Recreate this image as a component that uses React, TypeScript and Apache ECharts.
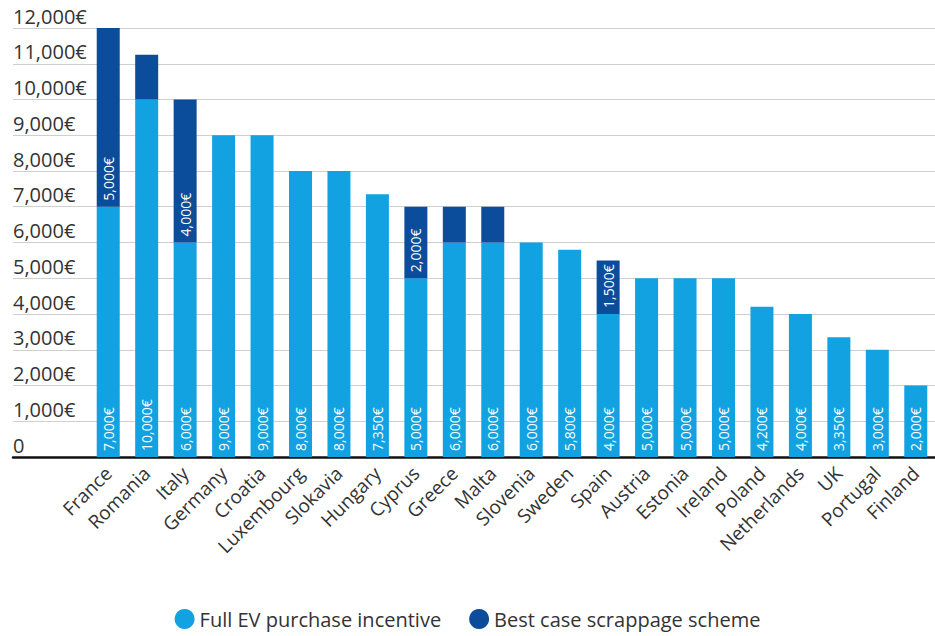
import React, { useEffect, useRef } from "react";
import * as echarts from "echarts";

const countries = [
  "France", "Romania", "Italy", "Germany", "Croatia", "Luxembourg", "Slokavia",
  "Hungary", "Cyprus", "Greece", "Malta", "Slovenia", "Sweden", "Spain",
  "Austria", "Estonia", "Ireland", "Poland", "Netherlands", "UK", "Portugal", "Finland",
];
const fullIncentive = [
  7000, 10000, 6000, 9000, 9000, 8000, 8000, 7350, 5000, 6000, 6000, 6000, 5800,
  4000, 5000, 5000, 5000, 4200, 4000, 3350, 3000, 2000,
];
const scrappage = [
  5000, 1250, 4000, 0, 0, 0, 0, 0, 2000, 1000, 1000, 0, 0, 1500, 0, 0, 0, 0, 0, 0, 0, 0,
];
// whether the scrappage segment carries its value label (as in the reference)
const scrappageLabelled = [
  true, false, true, false, false, false, false, false, true, false, false, false,
  false, true, false, false, false, false, false, false, false, false,
];
const yTicks = [0, 1000, 2000, 3000, 4000, 5000, 6000, 7000, 8000, 9000, 10000, 11000, 12000];
const seriesNames = ["Full EV purchase incentive", "Best case scrappage scheme"];

const LIGHT = "#12a2e2";
const DARK = "#0b4d9b";
const FONT = "Open Sans";

const fmt = (v: number) => v.toLocaleString("en-US") + "€";

export default function App() {
  const ref = useRef<HTMLDivElement>(null);
  useEffect(() => {
    if (!ref.current) return;
    const chart = echarts.init(ref.current, null, { renderer: "svg" });
    const yMax = yTicks[yTicks.length - 1];
    const barLabel = {
      show: true,
      position: "insideBottom" as const,
      rotate: 90,
      align: "left" as const,
      verticalAlign: "middle" as const,
      distance: 6,
      color: "#ffffff",
      fontSize: 14,
      fontFamily: FONT,
      formatter: (p: any) => fmt(p.value),
    };
    chart.setOption({
      animation: false,
      textStyle: { fontFamily: FONT },
      grid: [
        { left: 13, right: 0, top: 28, bottom: 179 },
        { left: 89, width: 850, top: 28, bottom: 179 },
      ],
      xAxis: [
        {
          type: "value",
          gridIndex: 0,
          min: 0,
          max: 1,
          axisLine: { show: true, onZero: false, lineStyle: { color: "#111", width: 2.5 } },
          axisTick: { show: false },
          axisLabel: { show: false },
          splitLine: { show: false },
        },
        {
          type: "category",
          gridIndex: 1,
          data: countries,
          axisLine: { show: false },
          axisTick: { show: false },
          axisLabel: {
            rotate: 45,
            margin: 13,
            fontSize: 19,
            color: "#333",
            fontFamily: FONT,
            interval: 0,
          },
        },
      ],
      yAxis: [
        {
          type: "value",
          gridIndex: 0,
          min: 0,
          max: yMax,
          interval: 1000,
          axisLine: { show: false },
          axisTick: { show: false },
          axisLabel: {
            inside: true,
            margin: 0,
            align: "left",
            verticalAlign: "bottom",
            padding: [0, 0, 2, 0],
            fontSize: 20,
            color: "#333",
            fontFamily: FONT,
            formatter: (v: number) => (v === 0 ? "0" : fmt(v)),
          },
          splitLine: { show: true, lineStyle: { color: "#cfcfcf", width: 1 } },
        },
        {
          type: "value",
          gridIndex: 1,
          min: 0,
          max: yMax,
          interval: 1000,
          show: false,
          splitLine: { show: false },
        },
      ],
      legend: {
        bottom: 2,
        left: "center",
        icon: "circle",
        itemWidth: 20,
        itemHeight: 20,
        itemGap: 28,
        textStyle: { fontSize: 20, color: "#333", fontFamily: FONT },
        data: seriesNames,
      },
      series: [
        {
          name: seriesNames[0],
          type: "bar",
          stack: "total",
          xAxisIndex: 1,
          yAxisIndex: 1,
          barWidth: 23,
          itemStyle: { color: LIGHT },
          label: barLabel,
          data: fullIncentive,
        },
        {
          name: seriesNames[1],
          type: "bar",
          stack: "total",
          xAxisIndex: 1,
          yAxisIndex: 1,
          barWidth: 23,
          itemStyle: { color: DARK },
          data: scrappage.map((v, i) => ({
            value: v,
            label: { ...barLabel, show: scrappageLabelled[i] && v > 0 },
          })),
        },
      ],
    });
    return () => chart.dispose();
  }, []);
  return (
    <div
      ref={ref}
      style={{ position: "fixed", left: 0, top: 0, width: 935, height: 636, background: "#fff" }}
    />
  );
}
